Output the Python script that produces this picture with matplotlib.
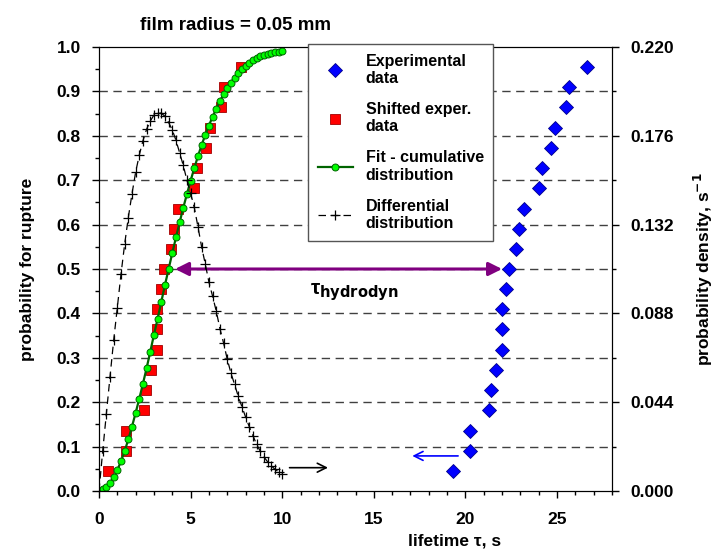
import numpy as np
import matplotlib
matplotlib.use('Agg')
import matplotlib.pyplot as plt
from matplotlib.ticker import MultipleLocator, FormatStrFormatter

plt.rcParams['font.family'] = ['Liberation Sans', 'DejaVu Sans']
plt.rcParams['font.weight'] = 'bold'
plt.rcParams['mathtext.default'] = 'bf'

# experimental lifetimes (s) and cumulative probability
exp_t = [19.32, 20.26, 20.26, 21.28, 21.39, 21.68, 21.99, 22.01, 22.01, 22.21, 22.37,
         22.76, 22.95, 23.17, 24.01, 24.19, 24.67, 24.89, 25.49, 25.68, 26.61]
exp_p = [0.045, 0.091, 0.136, 0.182, 0.227, 0.273, 0.318, 0.364, 0.409, 0.455, 0.500,
         0.545, 0.591, 0.636, 0.682, 0.727, 0.773, 0.818, 0.864, 0.909, 0.955]
# shifted experimental data
shift_t = [0.49, 1.45, 1.45, 2.45, 2.57, 2.84, 3.14, 3.17, 3.17, 3.36, 3.53,
           3.92, 4.11, 4.33, 5.17, 5.35, 5.83, 6.05, 6.65, 6.84, 7.77]

# fit, sampled every 0.2 s from 0 to 10 s
fit_t = np.linspace(0, 10, 51)
fit_p = [0.000, 0.004, 0.010, 0.019, 0.031, 0.047, 0.067, 0.090, 0.116, 0.145,
         0.176, 0.208, 0.242, 0.277, 0.314, 0.352, 0.388, 0.426, 0.464, 0.500,
         0.536, 0.571, 0.605, 0.638, 0.669, 0.699, 0.727, 0.754, 0.779, 0.802,
         0.823, 0.843, 0.861, 0.878, 0.894, 0.908, 0.920, 0.931, 0.941, 0.950,
         0.958, 0.965, 0.971, 0.976, 0.980, 0.983, 0.985, 0.987, 0.988, 0.989,
         0.990]
# differential distribution (right axis, 1/s)
diff_d = [0.0000, 0.0196, 0.0381, 0.0565, 0.0746, 0.0909, 0.1074, 0.1223, 0.1355, 0.1472,
          0.1580, 0.1665, 0.1736, 0.1793, 0.1833, 0.1863, 0.1874, 0.1872, 0.1857, 0.1826,
          0.1789, 0.1738, 0.1676, 0.1613, 0.1540, 0.1475, 0.1405, 0.1310, 0.1210, 0.1125,
          0.1035, 0.0965, 0.0891, 0.0805, 0.0733, 0.0653, 0.0585, 0.0528, 0.0469, 0.0418,
          0.0367, 0.0319, 0.0275, 0.0231, 0.0198, 0.0169, 0.0145, 0.0125, 0.0108, 0.0095,
          0.0086]

fs = 12.5
W, H = 721, 552
fig = plt.figure(figsize=(W / 100, H / 100), dpi=100)
ax = fig.add_axes([99 / W, 1 - 491 / H, 513 / W, 444 / H])
ax2 = ax.twinx()

ax.set_xlim(0, 28)
ax.set_ylim(0, 1.0)
ax2.set_ylim(0, 0.22)

for y in np.arange(0.1, 0.95, 0.1):
    ax.axhline(y, color='#404040', lw=1, ls=(0, (6, 4)), zorder=0)

ax.plot(exp_t, exp_p, ls='none', marker='D', ms=7, mfc='#0000ff', mec='#00008b', mew=0.6,
        label='Experimental\ndata', zorder=3)
ax.plot(shift_t, exp_p, ls='none', marker='s', ms=7, mfc='#ff0000', mec='#a00000', mew=0.6,
        label='Shifted exper.\ndata', zorder=3)
ax.plot(fit_t, fit_p, color='#006400', lw=1.6, marker='o', ms=5, mfc='#00ff00', mec='#006400',
        mew=0.7, label='Fit - cumulative\ndistribution', zorder=4)
ax2.plot(fit_t, diff_d, color='black', lw=0.9, ls=(0, (6, 4)), marker='+', ms=7, mew=0.9,
         label='Differential\ndistribution')

# arrows
ax.annotate('', xy=(4.15, 0.5), xytext=(22.0, 0.5),
            arrowprops=dict(arrowstyle='<|-|>', color='#800080', lw=2.2, mutation_scale=20,
                            shrinkA=0, shrinkB=0), zorder=5)
ax.annotate('', xy=(12.5, 0.0525), xytext=(10.4, 0.0525),
            arrowprops=dict(arrowstyle='->', color='black', lw=1.2, mutation_scale=16,
                            shrinkA=0, shrinkB=0))
ax.annotate('', xy=(17.1, 0.079), xytext=(19.6, 0.079),
            arrowprops=dict(arrowstyle='->', color='#0000ff', lw=1.2, mutation_scale=16,
                            shrinkA=0, shrinkB=0))
ax.text(11.5, 0.448, 'τ$_{hydrodyn}$', fontsize=15, va='center', ha='left')

# ticks
ax.xaxis.set_major_locator(MultipleLocator(5))
ax.xaxis.set_minor_locator(MultipleLocator(1))
ax.yaxis.set_major_locator(MultipleLocator(0.1))
ax.yaxis.set_minor_locator(MultipleLocator(0.05))
ax.yaxis.set_major_formatter(FormatStrFormatter('%.1f'))
ax2.yaxis.set_major_locator(MultipleLocator(0.044))
ax2.yaxis.set_minor_locator(MultipleLocator(0.022))
ax2.yaxis.set_major_formatter(FormatStrFormatter('%.3f'))
for a in (ax, ax2):
    a.tick_params(which='major', direction='out', length=5, width=1, labelsize=fs)
    a.tick_params(which='minor', direction='out', length=3, width=1)
    for lbl in a.get_xticklabels() + a.get_yticklabels():
        lbl.set_fontweight('bold')
ax.tick_params(axis='x', pad=10)
ax.tick_params(axis='y', pad=8)
ax2.tick_params(axis='y', pad=8)

ax.set_ylabel('probability for rupture', fontsize=fs, fontweight='bold')
ax.yaxis.set_label_coords(-0.125, 0.5)
ax2.set_ylabel('probability density, s$^{-1}$', fontsize=fs, fontweight='bold')
ax2.yaxis.set_label_coords(1.155, 0.5)
ax.set_xlabel('lifetime τ, s', fontsize=fs, fontweight='bold')
ax.xaxis.set_label_coords(0.694, -0.095)
fig.text(235 / W, 1 - 25 / H, 'film radius = 0.05 mm', fontsize=13.5, fontweight='bold',
         ha='center', va='center')

h1, l1 = ax.get_legend_handles_labels()
h2, l2 = ax2.get_legend_handles_labels()
leg = ax2.legend(h1 + h2, l1 + l2, loc='upper left', bbox_to_anchor=(308 / W, 1 - 44 / H),
                 bbox_transform=fig.transFigure, borderaxespad=0, fancybox=False,
                 framealpha=1, edgecolor='#555555', prop={'size': 11.5, 'weight': 'bold'},
                 handlelength=2.2, labelspacing=1.0, borderpad=0.6)
leg.get_frame().set_linewidth(1)

fig.savefig('out.png', dpi=100)
